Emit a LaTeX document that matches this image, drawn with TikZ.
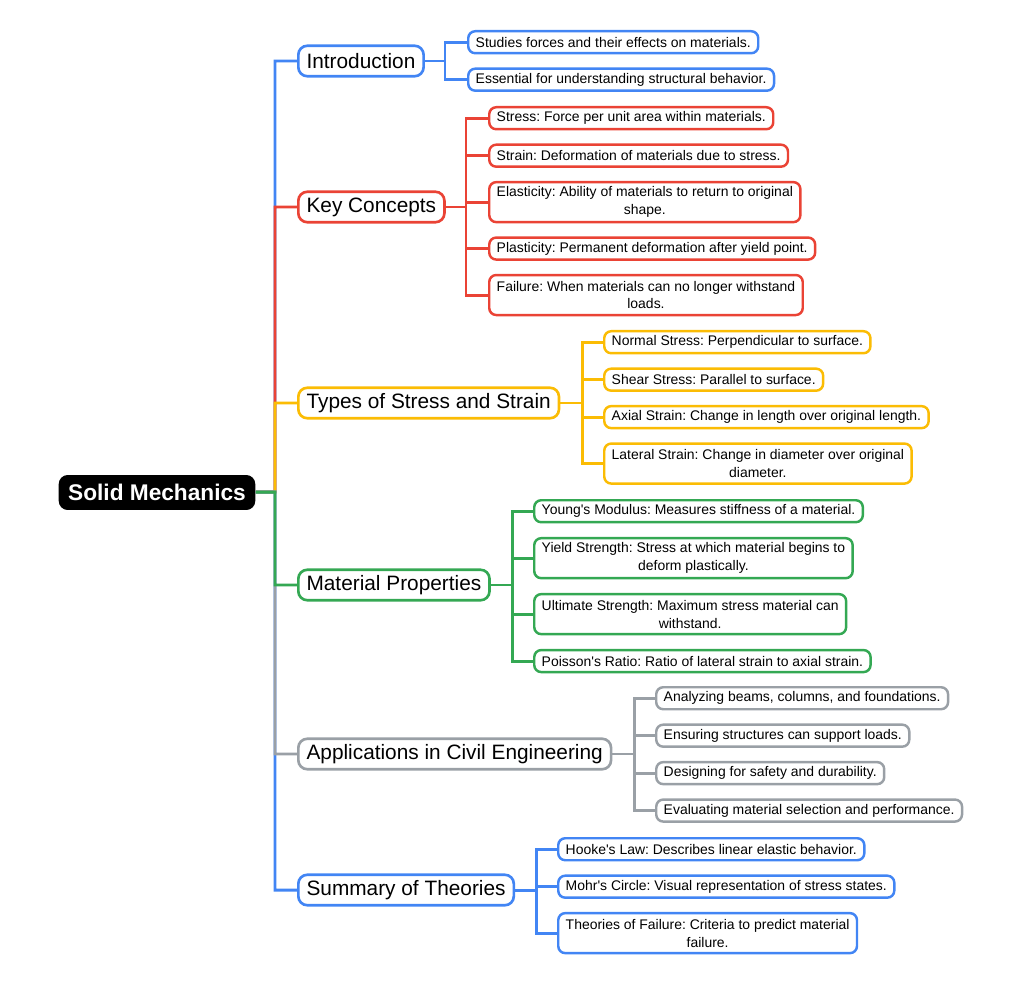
\documentclass[tikz,border=0pt]{standalone}
\usepackage{fontspec}
\setmainfont{Liberation Sans}[Ligatures=TeXOff]
\usetikzlibrary{positioning}

\definecolor{mmblue}{HTML}{4285F4}
\definecolor{mmred}{HTML}{EA4335}
\definecolor{mmyellow}{HTML}{FBBC04}
\definecolor{mmgreen}{HTML}{34A853}
\definecolor{mmgrey}{HTML}{9AA0A6}

\tikzset{
	rootbox/.style={fill=black, text=white, font=\fontsize{12.9}{15}\selectfont\bfseries,
		rounded corners=0.18cm, minimum height=0.7cm, inner xsep=0.19cm, inner ysep=0},
	branch/.style={draw=#1, fill=white, line width=1.5pt, rounded corners=0.18cm,
		font=\fontsize{11.85}{14}\selectfont, minimum height=0.61cm,
		inner xsep=0.165cm, inner ysep=0, anchor=west},
	leaf/.style={draw=#1, fill=white, line width=1.4pt, rounded corners=0.14cm,
		font=\fontsize{7.94}{10.2}\selectfont, minimum height=0.44cm,
		inner xsep=0.15cm, inner ysep=0, align=center},
	tall/.style={minimum height=0.8cm},
	conn/.style={draw=#1, line width=1.7pt},
}

\begin{document}
\frenchspacing
\begin{tikzpicture}[x=0.02cm, y=-0.02cm]
	\useasboundingbox (0,0) rectangle (1024,986);
	%% root and trunk
	\node[rootbox] (root) at (157,492.5) {Solid Mechanics};
	\coordinate (hub) at (275,492);
	%% main branches
	\node[branch=mmblue]   (intro) at (297,61)  {Introduction};
	\node[branch=mmred]    (key)   at (297,207) {Key Concepts};
	\node[branch=mmyellow] (types) at (297,403) {Types of Stress and Strain};
	\node[branch=mmgreen]  (mat)   at (297,585) {Material Properties};
	\node[branch=mmgrey]   (app)   at (297,754) {Applications in Civil Engineering};
	\node[branch=mmblue]   (summ)  at (297,890) {Summary of Theories};
	%% junctions
	\coordinate (jintro) at (445,61);
	\coordinate (jkey)   at (466,207);
	\coordinate (jtypes) at (582,403);
	\coordinate (jmat)   at (512,585);
	\coordinate (japp)   at (634,754);
	\coordinate (jsumm)  at (536,890);
	%% introduction
	\node[leaf=mmblue, anchor=north west] (in1) at (467,30) {Studies forces and their effects on materials.};
	\node[leaf=mmblue, below=0.26cm of in1.south west, anchor=north west] (in2) {Essential for understanding structural behavior.};
	%% key concepts
	\node[leaf=mmred, anchor=north west] (ke1) at (488,106) {Stress: Force per unit area within materials.};
	\node[leaf=mmred, below=0.26cm of ke1.south west, anchor=north west] (ke2) {Strain: Deformation of materials due to stress.};
	\node[leaf=mmred, tall, below=0.26cm of ke2.south west, anchor=north west] (ke3) {Elasticity: Ability of materials to return to original\\shape.};
	\node[leaf=mmred, below=0.26cm of ke3.south west, anchor=north west] (ke4) {Plasticity: Permanent deformation after yield point.};
	\node[leaf=mmred, tall, below=0.26cm of ke4.south west, anchor=north west] (ke5) {Failure: When materials can no longer withstand\\loads.};
	%% types of stress and strain
	\node[leaf=mmyellow, anchor=north west] (ty1) at (603,330) {Normal Stress: Perpendicular to surface.};
	\node[leaf=mmyellow, below=0.26cm of ty1.south west, anchor=north west] (ty2) {Shear Stress: Parallel to surface.};
	\node[leaf=mmyellow, below=0.26cm of ty2.south west, anchor=north west] (ty3) {Axial Strain: Change in length over original length.};
	\node[leaf=mmyellow, tall, below=0.26cm of ty3.south west, anchor=north west] (ty4) {Lateral Strain: Change in diameter over original\\diameter.};
	%% material properties
	\node[leaf=mmgreen, anchor=north west] (ma1) at (533,499) {Young's Modulus: Measures stiffness of a material.};
	\node[leaf=mmgreen, tall, below=0.27cm of ma1.south west, anchor=north west] (ma2) {Yield Strength: Stress at which material begins to\\deform plastically.};
	\node[leaf=mmgreen, tall, below=0.27cm of ma2.south west, anchor=north west] (ma3) {Ultimate Strength: Maximum stress material can\\withstand.};
	\node[leaf=mmgreen, below=0.27cm of ma3.south west, anchor=north west] (ma4) {Poisson's Ratio: Ratio of lateral strain to axial strain.};
	%% applications
	\node[leaf=mmgrey, anchor=north west] (ap1) at (655,686) {Analyzing beams, columns, and foundations.};
	\node[leaf=mmgrey, below=0.26cm of ap1.south west, anchor=north west] (ap2) {Ensuring structures can support loads.};
	\node[leaf=mmgrey, below=0.26cm of ap2.south west, anchor=north west] (ap3) {Designing for safety and durability.};
	\node[leaf=mmgrey, below=0.26cm of ap3.south west, anchor=north west] (ap4) {Evaluating material selection and performance.};
	%% summary
	\node[leaf=mmblue, anchor=north west] (su1) at (557,837) {Hooke's Law: Describes linear elastic behavior.};
	\node[leaf=mmblue, below=0.26cm of su1.south west, anchor=north west] (su2) {Mohr's Circle: Visual representation of stress states.};
	\node[leaf=mmblue, tall, below=0.26cm of su2.south west, anchor=north west] (su3) {Theories of Failure: Criteria to predict material\\failure.};
	% trunk lines
	\draw[conn=mmblue]   (root) -- (hub) |- (intro);
	\draw[conn=mmred]    (root) -- (hub) |- (key);
	\draw[conn=mmyellow] (root) -- (hub) |- (types);
	\draw[conn=mmblue]   (root) -- (hub) |- (summ);
	\draw[conn=mmgrey]   (root) -- (hub) |- (app);
	\draw[conn=mmgreen]  (root) -- (hub) |- (mat);
	% leaf lines
	\draw[conn=mmblue] (intro) -- (jintro) |- (in1);
	\draw[conn=mmblue] (intro) -- (jintro) |- (in2);
	\draw[conn=mmred] (key) -- (jkey) |- (ke1);
	\draw[conn=mmred] (key) -- (jkey) |- (ke2);
	\draw[conn=mmred] (key) -- (jkey) |- (ke3);
	\draw[conn=mmred] (key) -- (jkey) |- (ke4);
	\draw[conn=mmred] (key) -- (jkey) |- (ke5);
	\draw[conn=mmyellow] (types) -- (jtypes) |- (ty1);
	\draw[conn=mmyellow] (types) -- (jtypes) |- (ty2);
	\draw[conn=mmyellow] (types) -- (jtypes) |- (ty3);
	\draw[conn=mmyellow] (types) -- (jtypes) |- (ty4);
	\draw[conn=mmgreen] (mat) -- (jmat) |- (ma1);
	\draw[conn=mmgreen] (mat) -- (jmat) |- (ma2);
	\draw[conn=mmgreen] (mat) -- (jmat) |- (ma3);
	\draw[conn=mmgreen] (mat) -- (jmat) |- (ma4);
	\draw[conn=mmgrey] (app) -- (japp) |- (ap1);
	\draw[conn=mmgrey] (app) -- (japp) |- (ap2);
	\draw[conn=mmgrey] (app) -- (japp) |- (ap3);
	\draw[conn=mmgrey] (app) -- (japp) |- (ap4);
	\draw[conn=mmblue] (summ) -- (jsumm) |- (su1);
	\draw[conn=mmblue] (summ) -- (jsumm) |- (su2);
	\draw[conn=mmblue] (summ) -- (jsumm) |- (su3);
\end{tikzpicture}
\end{document}
